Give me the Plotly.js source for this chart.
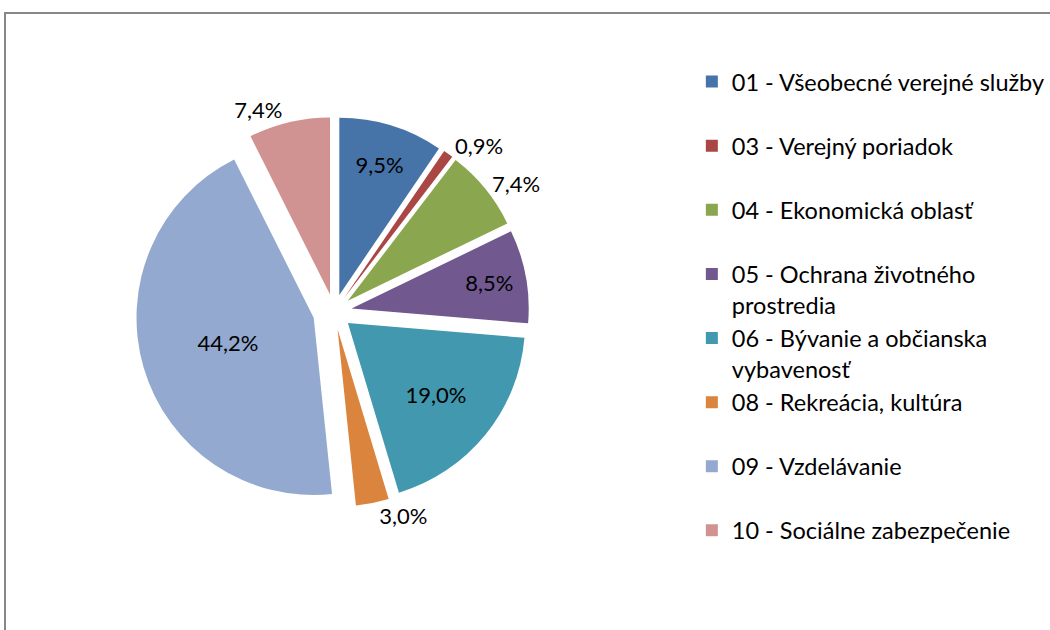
<!DOCTYPE html>
<html>
<head>
<meta charset="utf-8">
<script src="https://cdn.plot.ly/plotly-3.0.1.min.js"></script>
<style>
  html, body { margin: 0; padding: 0; background: #fff; }
  #frame { position: absolute; left: 4px; top: 12px; width: 1200px; height: 800px;
           border-top: 2px solid #878787; border-left: 2px solid #878787; }
  #chart { position: absolute; left: 0; top: 0; width: 1050px; height: 630px; }
</style>
</head>
<body>
<div id="frame"></div>
<div id="chart"></div>
<script>
const categories = [
  "01 - Všeobecné verejné služby<br> ",
  "03 - Verejný poriadok<br> ",
  "04 - Ekonomická oblasť<br> ",
  "05 - Ochrana životného<br>prostredia",
  "06 - Bývanie a občianska<br>vybavenosť",
  "08 - Rekreácia, kultúra<br> ",
  "09 - Vzdelávanie<br> ",
  "10 - Sociálne zabezpečenie<br> "
];
const shares = [9.5, 0.9, 7.4, 8.5, 19.0, 3.0, 44.2, 7.4];
const colors = ["#4674A9", "#AA4644", "#8AA64F", "#71588F", "#4198AF", "#DB843D", "#93A9CF", "#D19392"];
const labelPositions = ["inside", "outside", "outside", "inside", "inside", "outside", "inside", "outside"];
const pulls = [0.1, 0.1, 0.1, 0.1, 0.1, 0.1, 0.12, 0.1];

const FONT = "Lato, 'Open Sans', sans-serif";

const trace = {
  type: "pie",
  labels: categories,
  values: shares,
  sort: false,
  direction: "clockwise",
  rotation: 0,
  pull: pulls,
  marker: { colors: colors, line: { width: 0 } },
  texttemplate: "%{value:.1f}%",
  textposition: labelPositions,
  insidetextorientation: "horizontal",
  textfont: { family: FONT, size: 22, color: "#000" },
  outsidetextfont: { family: FONT, size: 22, color: "#000" },
  insidetextfont: { family: FONT, size: 22, color: "#000" },
  hoverinfo: "label+percent",
  domain: { x: [0.08, 0.57], y: [0.19, 0.82] }
};

const layout = {
  width: 1050,
  height: 630,
  margin: { l: 0, r: 0, t: 0, b: 0 },
  paper_bgcolor: "rgba(0,0,0,0)",
  plot_bgcolor: "rgba(0,0,0,0)",
  separators: ", ",
  showlegend: true,
  legend: {
    x: 0.673, y: 0.905, xanchor: "left", yanchor: "top",
    font: { family: FONT, size: 23.5, color: "#000" },
    valign: "top",
    itemwidth: 30,
    tracegroupgap: 0
  }
};

Plotly.newPlot("chart", [trace], layout, { displayModeBar: false, staticPlot: true });
</script>
</body>
</html>
